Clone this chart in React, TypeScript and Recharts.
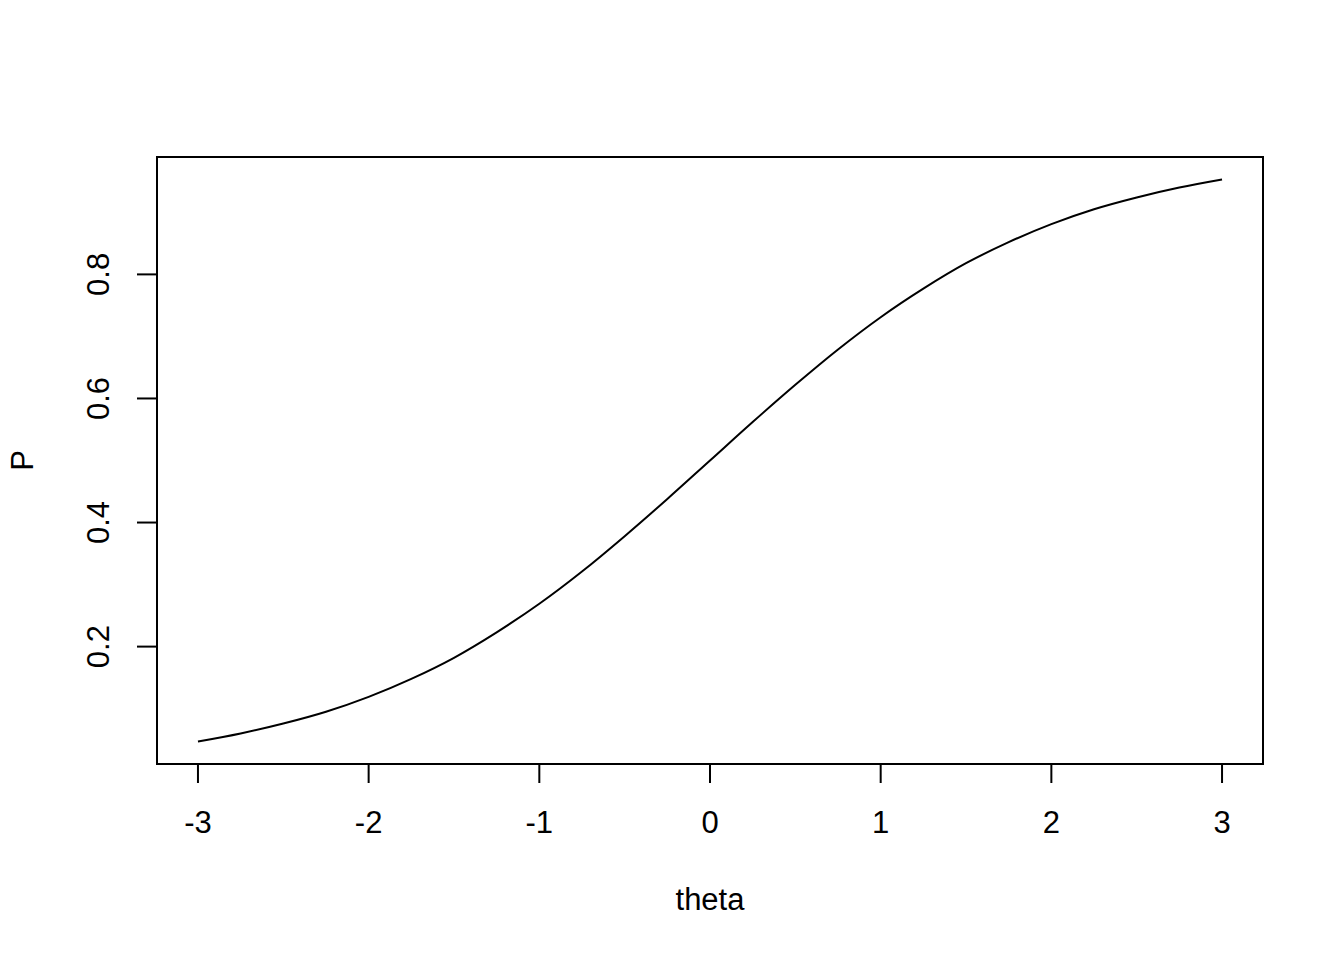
import React from "react";
import { LineChart, Line, XAxis, YAxis, ReferenceArea } from "recharts";

const thetaValues = [-3, -2.75, -2.5, -2.25, -2, -1.75, -1.5, -1.25, -1, -0.75, -0.5, -0.25, 0, 0.25, 0.5, 0.75, 1, 1.25, 1.5, 1.75, 2, 2.25, 2.5, 2.75, 3];
const pValues = [0.047, 0.060, 0.076, 0.095, 0.119, 0.148, 0.182, 0.223, 0.269, 0.321, 0.378, 0.438, 0.5, 0.562, 0.622, 0.679, 0.731, 0.777, 0.818, 0.852, 0.881, 0.905, 0.924, 0.940, 0.953];
const xTicks = [-3, -2, -1, 0, 1, 2, 3];
const yTicks = [0.2, 0.4, 0.6, 0.8];
const xLabel = "theta";
const yLabel = "P";

const data = thetaValues.map((t, i) => ({ theta: t, P: pValues[i] }));

const FONT = "'Liberation Sans', Arial, Helvetica, sans-serif";
const FS = 31;

const xPad = (3 - -3) * 0.04;
const yMinData = Math.min(...pValues);
const yMaxData = Math.max(...pValues);
const yPad = (yMaxData - yMinData) * 0.04;
const xDomain: [number, number] = [-3 - xPad, 3 + xPad];
const yDomain: [number, number] = [yMinData - yPad, yMaxData + yPad];

const XTick = (props: any) => {
  const { x, y, payload } = props;
  return (
    <text x={x} y={y + 37} textAnchor="middle" dominantBaseline="central" fontFamily={FONT} fontSize={FS} fill="#000">
      {String(payload.value)}
    </text>
  );
};

const YTick = (props: any) => {
  const { x, y, payload } = props;
  const cx = x - 36;
  return (
    <text x={cx} y={y} textAnchor="middle" dominantBaseline="central" fontFamily={FONT} fontSize={FS} fill="#000" transform={`rotate(-90 ${cx} ${y})`}>
      {String(payload.value)}
    </text>
  );
};

const XLabel = (props: any) => {
  const vb = props.viewBox || {};
  return (
    <text x={vb.x + vb.width / 2} y={vb.y + 135} textAnchor="middle" dominantBaseline="central" fontFamily={FONT} fontSize={FS} fill="#000">
      {xLabel}
    </text>
  );
};

const YLabel = (props: any) => {
  const vb = props.viewBox || {};
  const cx = vb.x + 22;
  const cy = vb.y + vb.height / 2;
  return (
    <text x={cx} y={cy} textAnchor="middle" dominantBaseline="central" fontFamily={FONT} fontSize={FS} fill="#000" transform={`rotate(-90 ${cx} ${cy})`}>
      {yLabel}
    </text>
  );
};

export default function App() {
  return (
    <div style={{ position: "absolute", left: 0, top: 0, background: "#fff" }}>
      <LineChart width={1344} height={960} data={data} margin={{ top: 157, right: 81, left: 0, bottom: 0 }}>
        <XAxis
          dataKey="theta"
          type="number"
          domain={xDomain}
          ticks={xTicks}
          allowDataOverflow
          axisLine={false}
          tickLine={{ stroke: "#000", strokeWidth: 2 }}
          tickSize={19}
          height={196}
          tick={<XTick />}
          interval={0}
          label={<XLabel />}
        />
        <YAxis
          type="number"
          domain={yDomain}
          ticks={yTicks}
          allowDataOverflow
          axisLine={false}
          tickLine={{ stroke: "#000", strokeWidth: 2 }}
          tickSize={20}
          width={157}
          tick={<YTick />}
          interval={0}
          label={<YLabel />}
        />
        <ReferenceArea x1={xDomain[0]} x2={xDomain[1]} y1={yDomain[0]} y2={yDomain[1]} fill="none" stroke="#000" strokeWidth={2} fillOpacity={0} ifOverflow="visible" />
        <Line type="monotone" dataKey="P" stroke="#000" strokeWidth={2} dot={false} isAnimationActive={false} />
      </LineChart>
    </div>
  );
}
